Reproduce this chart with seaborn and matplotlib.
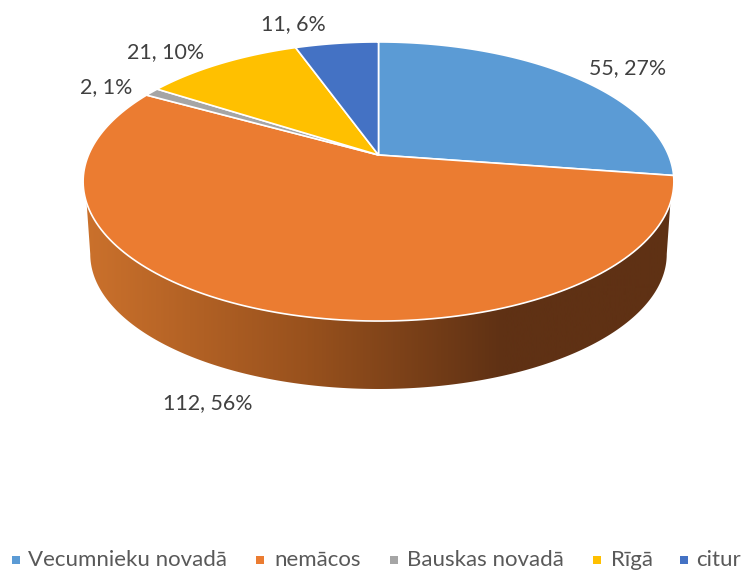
import numpy as np
import seaborn as sns
import matplotlib
matplotlib.use('Agg')
import matplotlib.pyplot as plt
from matplotlib.colors import LinearSegmentedColormap
from matplotlib.patches import Polygon

categories = ['Vecumnieku novadā', 'nemācos', 'Bauskas novadā', 'Rīgā', 'citur']
values = [55, 112, 2, 21, 11]
percents = [27, 56, 1, 10, 6]
colors = ['#5B9BD5', '#EB7C31', '#A5A5A5', '#FFC000', '#4472C4']

# where each data label sits, in pixels
label_pos = [(628, 68), (208, 403), (106, 87), (166, 52), (293, 24)]
# legend entries: x of the square, x where the text starts
legend_pos = [(16, 28), (260, 274), (394, 407), (597, 611), (684, 696)]

sns.set_theme(style='white')
plt.rcParams['font.family'] = ['Lato', 'DejaVu Sans']

# tilted disc: circle seen in perspective, k is the perspective strength
CX = 378.5
K = 0.19


def rim(theta, cy, a, b):
    # theta in degrees clockwise from 12 o'clock
    t = np.radians(theta)
    u, v = np.sin(t), -np.cos(t)
    d = 1 - K * v
    return CX + a * u / d, cy + b * v / d


fig = plt.figure(figsize=(7.44, 5.70), dpi=100)
ax = fig.add_axes([0, 0, 1, 1])
ax.set_xlim(0, 744)
ax.set_ylim(570, 0)
ax.axis('off')

# side wall, only the front part shows
top_arc = rim(np.linspace(109.5, 250.5, 200), 155, 290, 134.5)
low_arc = rim(np.linspace(100.9, 259.1, 200), 228.5, 283, 130)
side = Polygon(np.column_stack([np.r_[top_arc[0], low_arc[0][::-1]],
                                np.r_[top_arc[1], low_arc[1][::-1]]]),
               closed=True, fc='none', ec='none')
ax.add_patch(side)
shade = LinearSegmentedColormap.from_list('shade', [
    (0.0, '#CB712C'), (0.38, '#98511D'), (0.71, '#5F3114'), (1.0, '#5F3114')])
img = ax.imshow(np.linspace(0, 1, 600)[None, :], cmap=shade, aspect='auto',
                extent=(84, 674, 570, 0), zorder=1)
img.set_clip_path(side)
ax.set_xlim(0, 744)
ax.set_ylim(570, 0)

# top face
total = sum(values)
start = 0
for value, color in zip(values, colors):
    sweep = 360 * value / total
    xs, ys = rim(np.linspace(start, start + sweep, 150), 155, 290, 134.5)
    ax.fill(np.r_[CX, xs], np.r_[155, ys], fc=color, ec='white', lw=1.2,
            joinstyle='miter', zorder=2)
    start += sweep

for value, pct, (x, y) in zip(values, percents, label_pos):
    ax.text(x, y, f'{value}, {pct}%', ha='center', va='center',
            fontsize=15.4, color='#404040', zorder=3)

for name, color, (sq_x, txt_x) in zip(categories, colors, legend_pos):
    ax.plot([sq_x], [560], ls='', marker='s', ms=5.5, color=color, mew=0)
    ax.text(txt_x, 560, name, ha='left', va='center', fontsize=16, color='#595959')

fig.savefig('out.png', dpi=100)
